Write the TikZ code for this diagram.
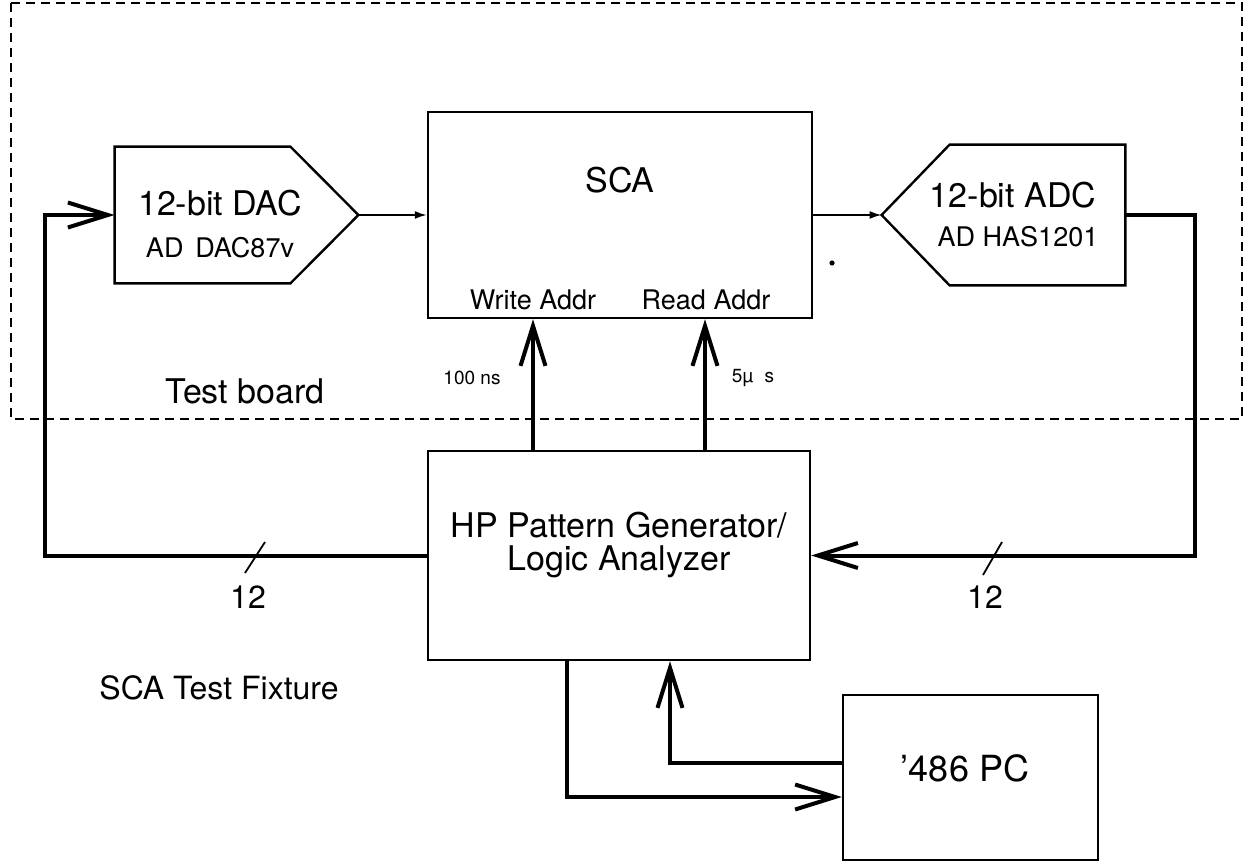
\documentclass[tikz,border=0pt]{standalone}
\usepackage{fontspec}
\setmainfont{TeX Gyre Heros}
\usetikzlibrary{positioning,arrows.meta}

\begin{document}
\begin{tikzpicture}[x=0.5pt, y=-0.5pt,
  blk/.style={draw, line width=1.2pt, inner sep=0pt},
  ghost/.style={inner sep=0pt},
  bus/.style={line width=2pt, -{Straight Barb[length=20pt,width=12.5pt,line width=2pt]}},
  sig/.style={line width=0.9pt, -{Latex[length=6pt,width=4pt]}},
  board/.style={line width=0.9pt, dash pattern=on 4.5pt off 3pt},
  bigtxt/.style={font=\fontsize{17}{20}\selectfont},
  midtxt/.style={font=\fontsize{13.5}{16}\selectfont},
  smalltxt/.style={font=\fontsize{9.5}{11}\selectfont},
  ]
  \useasboundingbox (0,0) rectangle (1248,867);

  % test board frame
  \draw[board] (11,3) rectangle (1242,419);

  % blocks
  \node[blk, minimum width=192pt, minimum height=103pt] (sca) at (620,215) {};
  \node[blk, minimum width=191pt, minimum height=104.5pt] (pg) at (619,555.5) {};
  \node[blk, minimum width=127.5pt, minimum height=82.5pt] (pc) at (970.5,777.5) {};
  \node[ghost, minimum width=121.5pt, minimum height=68pt] (dac) at (236.5,215) {};
  \node[ghost, minimum width=121.5pt, minimum height=70pt] (adc) at (1003.5,215) {};

  % converter outlines
  \draw[line width=1.2pt] (dac.north west) -- ([xshift=-34pt]dac.north east)
    -- (dac.east) -- ([xshift=-34pt]dac.south east) -- (dac.south west) -- cycle;
  \draw[line width=1.2pt] (adc.north east) -- ([xshift=34pt]adc.north west)
    -- (adc.west) -- ([xshift=34pt]adc.south west) -- (adc.south east) -- cycle;

  % labels
  \node[bigtxt] (daclbl) at (220,203) {12-bit DAC};
  \node[midtxt] (dacpart) at (220,248) {AD~\,DAC87v};
  \node[bigtxt] (adclbl) at (1013,195) {12-bit ADC};
  \node[midtxt] (adcpart) at (1018,237) {AD HAS1201};
  \node[bigtxt] (scalbl) at (620,180) {SCA};
  \node[midtxt] (wrlbl) at (533,300) {Write Addr};
  \node[midtxt] (rdlbl) at (706,300) {Read Addr};
  \node[smalltxt] (wrrate) at (472,378) {100 ns};
  \node[smalltxt] (rdrate) at (753,378) {5µ\hspace{0.6em}s};
  \node[bigtxt] (boardlbl) at (245,391) {Test board};
  \node[bigtxt, align=center, font=\fontsize{17}{16.5}\selectfont] (pglbl)
    at (619,545) {HP Pattern Generator/\\Logic Analyzer};
  \node[bigtxt, font=\fontsize{16}{19}\selectfont] (fixlbl) at (219,688) {SCA Test Fixture};
  \node[bigtxt, font=\fontsize{18}{21}\selectfont] (pclbl) at (965,768) {'486 PC};
  \node[bigtxt, font=\fontsize{16}{19}\selectfont] (nleft) at (248,597) {12};
  \node[bigtxt, font=\fontsize{16}{19}\selectfont] (nright) at (985,597) {12};

  % signal path
  \draw[sig] (dac.east) -- (sca.west);
  \draw[sig] (sca.east) -- (adc.west);
  \fill (832,263) circle (1.3pt);

  % address clocks
  \draw[bus] ([xshift=-43pt]pg.north) -- ([xshift=-43.5pt]sca.south);
  \draw[bus] ([xshift=43pt]pg.north) -- ([xshift=42.5pt]sca.south);

  % data buses
  \draw[bus] (pg.west) -| (45,215) -- (dac.west);
  \draw[bus] (adc.east) -- ++(70,0) |- (pg.east);
  \draw[line width=0.9pt] (245,573) -- (265,542);
  \draw[line width=0.9pt] (983,575) -- (1002,542);

  % PC link
  \draw[bus] ([xshift=-26pt]pg.south) |- ([yshift=-9.75pt]pc.west);
  \draw[bus] ([yshift=7.25pt]pc.west) -| ([xshift=25.5pt]pg.south);
\end{tikzpicture}
\end{document}
